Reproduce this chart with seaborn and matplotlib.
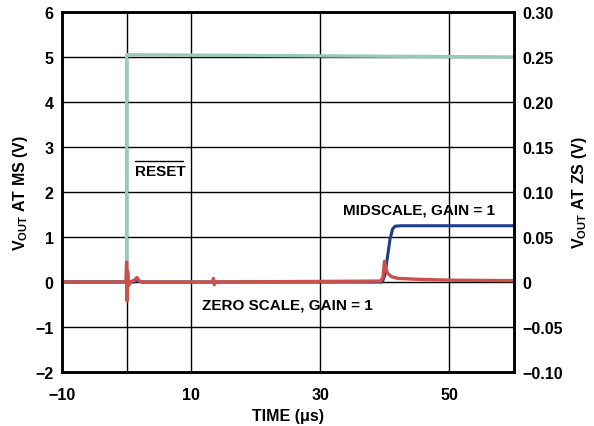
import matplotlib
matplotlib.use("Agg")
import matplotlib.pyplot as plt
import seaborn as sns
import pandas as pd

# ---- data ----
reset_t = [-10, 0.0, 0.02, 60]
reset_v = [0.0, 0.0, 5.05, 5.0]

ms_t = [-10, 1.2, 1.5, 1.9, 2.3, 39.6, 40.0, 40.4, 40.8, 41.2, 41.6, 42.5, 60]
ms_v = [0.0, 0.0, 0.06, 0.02, 0.0, 0.0, 0.15, 0.55, 0.95, 1.18, 1.24, 1.25, 1.25]

zs_t = [-10, -0.1, 0.0, 0.08, 0.16, 0.3, 0.6, 1.2, 1.6, 2.0, 2.5, 13.3, 13.45, 13.6, 13.75,
        39.3, 39.7, 39.95, 40.1, 40.4, 41.0, 42.0, 45.0, 50.0, 60.0]
zs_v = [0.0, 0.0, 0.022, -0.021, 0.012, -0.004, 0.0, 0.002, 0.005, 0.001, 0.0, 0.0, 0.004, -0.003, 0.0,
        0.001, 0.005, 0.023, 0.016, 0.010, 0.006, 0.004, 0.003, 0.002, 0.0015]

left_ticks = [-2, -1, 0, 1, 2, 3, 4, 5, 6]
right_ticks = [-0.10, -0.05, 0, 0.05, 0.10, 0.15, 0.20, 0.25, 0.30]
right_labels = ["\u22120.10", "\u22120.05", "0", "0.05", "0.10", "0.15", "0.20", "0.25", "0.30"]
x_ticks = [-10, 10, 30, 50]
x_grid = [0, 10, 30, 50]

sns.set_style("white")
plt.rcParams['font.family'] = ['Liberation Sans', 'DejaVu Sans']
plt.rcParams['font.weight'] = 'bold'
plt.rcParams['mathtext.default'] = 'regular'
plt.rcParams['axes.unicode_minus'] = True
plt.rcParams['text.color'] = 'black'
plt.rcParams['axes.labelcolor'] = 'black'
plt.rcParams['xtick.color'] = 'black'
plt.rcParams['ytick.color'] = 'black'

fig = plt.figure(figsize=(5.94, 4.27), dpi=100)
ax = fig.add_axes([0.1044, 0.1265, 0.7609, 0.8431])
ax2 = ax.twinx()

green = "#95ccb3"
blue = "#1d3c8c"
red = "#c9504b"

sns.lineplot(x=reset_t, y=reset_v, ax=ax, color=green, lw=2.4, estimator=None, sort=False)
sns.lineplot(x=ms_t, y=ms_v, ax=ax, color=blue, lw=2.2, estimator=None, sort=False)
sns.lineplot(x=zs_t, y=zs_v, ax=ax2, color=red, lw=2.4, estimator=None, sort=False)

ax.set_xlim(-10, 60)
ax.set_ylim(-2, 6)
ax2.set_ylim(-0.10, 0.30)

ax.set_yticks(left_ticks)
ax.set_yticklabels([str(t).replace('-', '\u2212') for t in left_ticks])
ax2.set_yticks(right_ticks)
ax2.set_yticklabels(right_labels)
ax.set_xticks(x_ticks)
ax.set_xticklabels([str(t).replace('-', '\u2212') for t in x_ticks])

for y in left_ticks[1:-1]:
    ax.axhline(y, color="black", lw=1.0, zorder=0)
for x in x_grid:
    ax.axvline(x, color="black", lw=1.0, zorder=0)

for a in (ax, ax2):
    for s in a.spines.values():
        s.set_linewidth(1.8)
        s.set_color("black")
    a.tick_params(axis='both', length=0, labelsize=11.5, pad=6, colors='black')
ax.tick_params(axis='x', pad=11)

ax.set_xlabel("TIME (\u03bcs)", fontsize=11.5, fontweight='bold', labelpad=4)
ax.set_ylabel("V$_{OUT}$ AT MS (V)", fontsize=11.5, fontweight='bold', labelpad=4)
ax2.set_ylabel("V$_{OUT}$ AT ZS (V)", fontsize=11.5, fontweight='bold', labelpad=5)

ax.text(1.3, 2.47, "RESET", fontsize=11, fontweight='bold', ha='left', va='center')
ax.plot([1.3, 8.8], [2.68, 2.68], color="black", lw=1.0)
ax.text(33.5, 1.6, "MIDSCALE, GAIN = 1", fontsize=11, fontweight='bold', ha='left', va='center')
ax.text(11.7, -0.49, "ZERO SCALE, GAIN = 1", fontsize=11, fontweight='bold', ha='left', va='center')

fig.savefig("out.png", dpi=100)
